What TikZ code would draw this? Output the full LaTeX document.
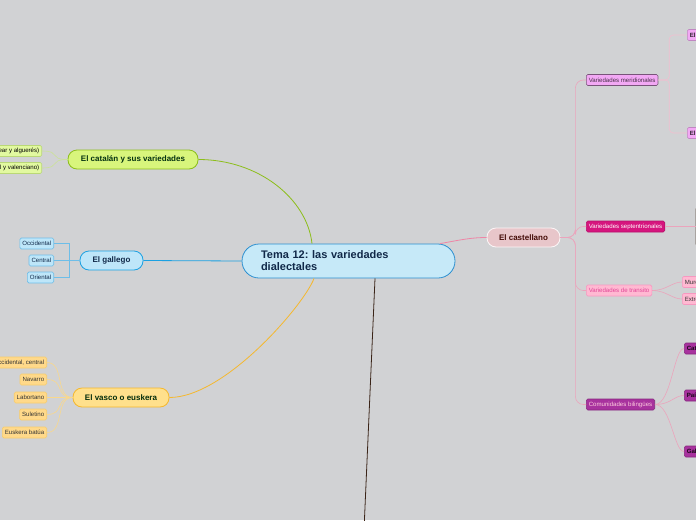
\documentclass[tikz,border=0pt]{standalone}
\usepackage{fontspec}
\setmainfont{Liberation Sans}
\usepackage{tikz}
\frenchspacing
\definecolor{mmbg}{RGB}{209,210,212}
\definecolor{mmtema}{RGB}{198,233,248}
\definecolor{mmtemaline}{RGB}{44,143,208}
\definecolor{mmnavy}{RGB}{16,40,72}
\definecolor{mmcat}{RGB}{216,245,124}
\definecolor{mmcatline}{RGB}{140,190,26}
\definecolor{mmcatleaf}{RGB}{226,249,160}
\definecolor{mmgal}{RGB}{190,230,249}
\definecolor{mmgalline}{RGB}{27,161,226}
\definecolor{mmgalleaf}{RGB}{110,190,232}
\definecolor{mmvas}{RGB}{255,224,140}
\definecolor{mmvasline}{RGB}{245,184,46}
\definecolor{mmvasleaf}{RGB}{255,217,138}
\definecolor{mmcas}{RGB}{232,198,202}
\definecolor{mmcasline}{RGB}{238,134,166}
\definecolor{mmcasleaf}{RGB}{235,164,188}
\definecolor{mmmer}{RGB}{242,168,244}
\definecolor{mmsep}{RGB}{214,21,126}
\definecolor{mmtra}{RGB}{255,185,210}
\definecolor{mmbil}{RGB}{168,50,158}
\definecolor{mmbrown}{RGB}{58,36,24}

\begin{document}
\begin{tikzpicture}[x=1pt, y=-1pt,
  topic/.style={draw, line width=0.8, rounded corners=9, minimum height=19,
    inner xsep=4, inner ysep=0, font=\fontsize{8}{9}\selectfont\bfseries},
  leaf/.style={draw, line width=0.6, rounded corners=1.5, minimum height=11,
    inner xsep=2.5, inner ysep=0, font=\fontsize{6.1}{7}\selectfont},
  link/.style={line width=0.8}]
\fill[mmbg] (0,0) rectangle (696,520);
\useasboundingbox (0,0) rectangle (696,520);
\clip (0,0) rectangle (696,520);

% central topic
\node[draw=mmtemaline, fill=mmtema, line width=0.8, rounded corners=17,
  minimum height=34, text width=175, inner xsep=19, inner ysep=0, align=left,
  text=mmnavy, font=\fontsize{11}{12}\selectfont\bfseries] (tema) at (348.5,261)
  {Tema 12: las variedades\\dialectales};

% El catalan
\node[topic, fill=mmcat, draw=mmcatline, text=mmnavy!60!green!40!black,
  minimum width=130] (cat) at (133,159.5) {El catalán y sus variedades};
\node[leaf, fill=mmcatleaf, draw=mmcatline!60, anchor=east] (catori) at (42,151)
  {Oriental (central, balear y alguerés)};
\node[leaf, fill=mmcatleaf, draw=mmcatline!60, anchor=east] (catocc) at (42,168)
  {Occidental (noroccidental y valenciano)};

% El gallego
\node[topic, fill=mmgal, draw=mmgalline, text=mmnavy, minimum width=63] (gal)
  at (111.5,260.5) {El gallego};
\node[leaf, fill=mmgal, draw=mmgalleaf, text=mmnavy, anchor=east] (galocc) at (54,243.5) {Occidental};
\node[leaf, fill=mmgal, draw=mmgalleaf, text=mmnavy, anchor=east] (galcen) at (54,260.5) {Central};
\node[leaf, fill=mmgal, draw=mmgalleaf, text=mmnavy, anchor=east] (galori) at (54,277.5) {Oriental};

% El vasco
\node[topic, fill=mmvas, draw=mmvasline, text=mmnavy!50!green!30!black,
  minimum width=96] (vas) at (121,397.5) {El vasco o euskera};
\node[leaf, fill=mmvasleaf, draw=mmvasline!70, text=black!80, anchor=east] (vasocc) at (47,362.5) {Occidental, central};
\node[leaf, fill=mmvasleaf, draw=mmvasline!70, text=black!80, anchor=east] (vasnav) at (47,379.5) {Navarro};
\node[leaf, fill=mmvasleaf, draw=mmvasline!70, text=black!80, anchor=east] (vaslab) at (47,397.5) {Labortano};
\node[leaf, fill=mmvasleaf, draw=mmvasline!70, text=black!80, anchor=east] (vassul) at (47,414.5) {Suletino};
\node[leaf, fill=mmvasleaf, draw=mmvasline!70, text=black!80, anchor=east] (vasbat) at (47,432.5) {Euskera batúa};

% El castellano
\node[topic, fill=mmcas, draw=white!85!mmcas, text=mmbrown!60!red!50!black,
  minimum width=73] (cas) at (523.5,237.5) {El castellano};
\node[leaf, fill=mmmer, draw=mmmer!50!black, text=mmmer!30!black, anchor=west] (mer) at (586,80) {Variedades meridionales};
\node[leaf, fill=mmsep, draw=mmsep!85!black, text=white, anchor=west] (sep) at (586,226.5) {Variedades septentrionales};
\node[leaf, fill=mmtra, draw=mmtra!80!mmsep, text=mmsep!70!mmtra, anchor=west] (tra) at (586,290.5) {Variedades de transito};
\node[leaf, fill=mmbil, draw=mmbil!80!black, text=mmtra!70!white, anchor=west] (bil) at (586,404.5) {Comunidades bilingües};

\node[leaf, fill=mmmer, draw=mmmer!80!black, text=mmmer!20!black, font=\fontsize{6.1}{7}\selectfont\bfseries, anchor=west] (and) at (687,35) {El andaluz};
\node[leaf, fill=mmmer, draw=mmmer!80!black, text=mmmer!20!black, font=\fontsize{6.1}{7}\selectfont\bfseries, anchor=west] (can) at (687,133) {El canario};
\node[draw=mmbrown!80, fill=mmsep, line width=1, rounded corners=2, minimum height=38,
  minimum width=60, anchor=west] (nor) at (695.5,226.5) {};
\node[leaf, fill=mmtra, draw=mmtra!80!mmsep, text=black!80, anchor=west] (mur) at (682,282) {Murciano};
\node[leaf, fill=mmtra, draw=mmtra!80!mmsep, text=black!80, anchor=west] (ext) at (682,299) {Extremeño};
\node[leaf, fill=mmbil, draw=mmbil!80!black, text=mmbil!15!black, font=\fontsize{6.1}{7}\selectfont\bfseries, anchor=west] (catu) at (684,348.5) {Cataluña};
\node[leaf, fill=mmbil, draw=mmbil!80!black, text=mmbil!15!black, font=\fontsize{6.1}{7}\selectfont\bfseries, anchor=west] (pva) at (684,395.5) {País Vasco};
\node[leaf, fill=mmbil, draw=mmbil!80!black, text=mmbil!15!black, font=\fontsize{6.1}{7}\selectfont\bfseries, anchor=west] (galc) at (684,451.5) {Galicia};

\coordinate (hist) at (364,530);

% main branches
\draw[link, mmcatline] ([xshift=-36.5]tema.north) .. controls +(-5,-45) and +(60,0) .. (cat.east);
\draw[link, mmgalline] (tema.west) -- (gal.east);
\draw[link, mmvasline] ([xshift=-34.5]tema.south) .. controls +(-9,25) and +(56,0) .. (vas.east);
\draw[link, mmcasline] ([xshift=91.5]tema.north) .. controls +(22,-4) and +(-15,0) .. (cas.west);
\draw[link, mmbrown] ([xshift=26.5]tema.south) -- (hist);

% sub branches
\foreach \leafname in {catori,catocc}
  \draw[line width=0.6, mmcatline!45] (cat.west) .. controls +(-20,0) and +(20,0) .. (\leafname.east);
\foreach \leafname in {galocc,galcen,galori}
  \draw[line width=0.7, mmgalleaf] (gal.west) -- ++(-10,0) |- (\leafname.east);
\foreach \leafname in {vasocc,vasnav,vaslab,vassul,vasbat}
  \draw[line width=0.6, mmvasline!55] (vas.west) .. controls +(-18,0) and +(18,0) .. (\leafname.east);
\foreach \leafname in {mer,sep,tra,bil}
  \draw[line width=0.6, mmcasleaf, rounded corners=8] (cas.east) -- ++(15,0) |- (\leafname.west);
\foreach \leafname in {and,can}
  \draw[line width=0.6, mmcasleaf!70, rounded corners=4] (mer.east) -- ++(11,0) |- (\leafname.west);
\draw[line width=0.6, mmcasleaf] (sep.east) -- (nor.west);
\foreach \leafname in {mur,ext}
  \draw[line width=0.6, mmcasleaf] (tra.east) .. controls +(14,0) and +(-10,0) .. (\leafname.west);
\foreach \leafname in {catu,pva,galc}
  \draw[line width=0.6, mmcasleaf] (bil.east) .. controls +(16,0) and +(-10,0) .. (\leafname.west);
\end{tikzpicture}
\end{document}
